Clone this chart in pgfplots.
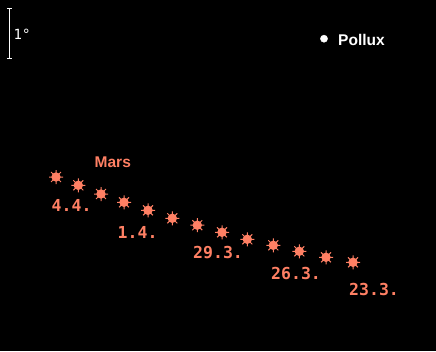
\documentclass[border=0pt]{standalone}
\usepackage{fontspec}
\setmainfont{Liberation Sans}
\newfontfamily\monob{DejaVu Sans Mono}
\newfontfamily\monor{DejaVu Sans Mono}
\usepackage{pgfplots}
\pgfplotsset{compat=1.18}
\definecolor{mars}{RGB}{255,128,100}
\pgfdeclareplotmark{sun}{%
  \pgfpathcircle{\pgfpointorigin}{4.7pt}\pgfusepathqfill
  \pgfsetlinewidth{1pt}%
  \foreach \a in {0,45,...,315}{%
    \pgfpathmoveto{\pgfpointpolar{\a}{3pt}}%
    \pgfpathlineto{\pgfpointpolar{\a}{7pt}}%
  }%
  \pgfusepathqstroke
}
\begin{document}
\begin{tikzpicture}
\begin{axis}[
  width=436pt, height=351pt, scale only axis,
  xmin=0, xmax=436, ymin=0, ymax=351, y dir=reverse,
  hide axis, clip=false,
]
\fill[black] (rel axis cs:0,0) rectangle (rel axis cs:1,1);
% scale bar (1 degree)
\addplot[white, line width=1pt] coordinates {(9.3,8.3) (9.3,58.7)};
\addplot[white, line width=1pt] coordinates {(6.8,8.3) (12,8.3)};
\addplot[white, line width=1pt] coordinates {(6.8,58.7) (12,58.7)};
\node[white, anchor=base west, inner sep=0pt, font=\monor\fontsize{14}{14}\selectfont] at (axis cs:13.5,39) {1°};
% Pollux
\addplot[only marks, mark=*, mark size=3.6pt, white] coordinates {(324,38.7)};
\node[white, anchor=base west, inner sep=0pt, font=\bfseries\fontsize{15.5}{15.5}\selectfont] at (axis cs:338,45) {Pollux};
% Mars positions, 4.4. (left) to 23.3. (right)
\addplot[only marks, mark=sun, mars, mark options={draw=mars, fill=mars}] coordinates {
  (56,177) (78.3,185.3) (101,194) (124,202.3) (148,210.3) (172.3,218.3)
  (197.3,225.2) (222,232.3) (247.3,239.3) (273.3,245.3) (299.3,251.3)
  (326,257.3) (353,262.3)
};
\node[mars, anchor=base west, inner sep=0pt, font=\bfseries\fontsize{15.5}{15.5}\selectfont] at (axis cs:94.5,167) {Mars};
\tikzset{lab/.style={mars, anchor=base west, inner sep=0pt, font=\monob\bfseries\fontsize{16.5}{16.5}\selectfont}}
\node[lab] at (axis cs:51.5,211) {4.4.};
\node[lab] at (axis cs:117.5,238) {1.4.};
\node[lab] at (axis cs:193,258.5) {29.3.};
\node[lab] at (axis cs:271,279) {26.3.};
\node[lab] at (axis cs:349,295.5) {23.3.};
\end{axis}
\end{tikzpicture}
\end{document}
